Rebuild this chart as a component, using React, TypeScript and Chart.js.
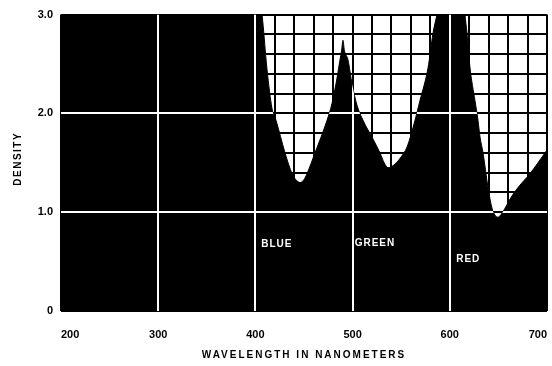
import React, { useEffect, useRef } from 'react';
import { Chart, registerables } from 'chart.js';

Chart.register(...registerables);

// Density curve (wavelength in nm -> density)
const wavelengths = [
  200, 300, 400, 403, 406.8, 411.9, 417.1, 421.2, 430.5, 437.7, 441.5, 446, 450, 453.1, 461.3, 473.7, 478.8,
  482.9, 487, 488.7, 490.1, 491.5, 495.3, 499.4, 504.6, 510.7, 521, 528.2, 532.5, 536.4, 540, 545, 550,
  556, 564.2, 569.3, 577.6, 582.7, 586.8, 590, 614, 615.6, 617.7, 620.8, 625.9, 629, 631.1, 634.2,
  639.3, 643.4, 646.5, 649.6, 653, 656.8, 663, 670.2, 682.5, 690, 697.9, 700,
];
const densities = [
  3.3, 3.3, 3.3, 3.2, 3.0, 2.45, 2.05, 1.93, 1.6, 1.39, 1.33, 1.3, 1.33, 1.39, 1.6, 1.93, 2.1,
  2.3, 2.54, 2.64, 2.74, 2.64, 2.54, 2.3, 2.08, 1.93, 1.74, 1.6, 1.5, 1.45, 1.46, 1.5, 1.56,
  1.66, 1.93, 2.13, 2.46, 2.81, 3.0, 3.15, 3.15, 3.0, 2.81, 2.46, 2.13, 1.93, 1.76, 1.6,
  1.25, 1.04, 0.97, 0.95, 0.98, 1.04, 1.15, 1.25, 1.39, 1.49, 1.6, 1.63,
];

const xMajor = [300, 400, 500, 600];
const yMajor = [1, 2];

const bandNames = ['BLUE', 'GREEN', 'RED'];
const bandX = [422, 523, 619];
const bandY = [0.68, 0.69, 0.52];

const xTitle = 'WAVELENGTH IN NANOMETERS';
const yTitle = 'DENSITY';

const FONT = '"Liberation Sans", Arial, Helvetica, sans-serif';

const overlay = {
  id: 'overlay',
  afterDatasetsDraw(chart: any) {
    const { ctx, chartArea: a, scales } = chart;
    const xs = scales.x;
    const ys = scales.y;
    const meta = chart.getDatasetMeta(0);
    const line = meta.dataset;
    const pts = meta.data;
    const base = ys.getPixelForValue(0);

    ctx.save();
    ctx.beginPath();
    ctx.rect(a.left, a.top, a.right - a.left, a.bottom - a.top);
    ctx.clip();
    ctx.beginPath();
    line.path(ctx);
    ctx.lineTo(pts[pts.length - 1].x, base);
    ctx.lineTo(pts[0].x, base);
    ctx.closePath();
    ctx.clip();
    ctx.strokeStyle = '#ffffff';
    ctx.lineWidth = 2;
    ctx.beginPath();
    xMajor.forEach((v) => {
      const px = Math.round(xs.getPixelForValue(v));
      ctx.moveTo(px, a.top);
      ctx.lineTo(px, a.bottom);
    });
    yMajor.forEach((v) => {
      const py = Math.round(ys.getPixelForValue(v));
      ctx.moveTo(a.left, py);
      ctx.lineTo(a.right, py);
    });
    ctx.stroke();
    ctx.restore();

    ctx.save();
    ctx.fillStyle = '#ffffff';
    ctx.font = 'bold 10px ' + FONT;
    (ctx as any).letterSpacing = '1px';
    ctx.textAlign = 'center';
    ctx.textBaseline = 'middle';
    bandNames.forEach((n, i) => {
      ctx.fillText(n, xs.getPixelForValue(bandX[i]), ys.getPixelForValue(bandY[i]));
    });
    ctx.restore();
  },
  afterDraw(chart: any) {
    const { ctx, chartArea: a } = chart;
    ctx.save();
    ctx.fillStyle = '#000';
    ctx.font = 'bold 10px ' + FONT;
    (ctx as any).letterSpacing = '2px';
    ctx.textAlign = 'center';
    ctx.textBaseline = 'middle';
    ctx.fillText(xTitle, (a.left + a.right) / 2, a.bottom + 44);
    (ctx as any).letterSpacing = '1.5px';
    ctx.translate(a.left - 43, (a.top + a.bottom) / 2 - 4);
    ctx.rotate(-Math.PI / 2);
    ctx.fillText(yTitle, 0, 0);
    ctx.restore();
  },
};

export default function App() {
  const ref = useRef<HTMLCanvasElement | null>(null);

  useEffect(() => {
    if (!ref.current) return;
    const chart = new Chart(ref.current, {
      type: 'line',
      data: {
        datasets: [
          {
            data: wavelengths.map((w, i) => ({ x: w, y: densities[i] })),
            borderColor: '#000',
            backgroundColor: '#000',
            borderWidth: 1,
            pointRadius: 0,
            fill: 'origin',
            cubicInterpolationMode: 'monotone',
          },
        ],
      },
      options: {
        responsive: false,
        animation: false,
        devicePixelRatio: 1,
        layout: { padding: { left: 8, top: 14, right: 5, bottom: 0 } },
        plugins: { legend: { display: false }, tooltip: { enabled: false } },
        scales: {
          x: {
            type: 'linear',
            min: 200,
            max: 700,
            afterFit: (s: any) => {
              s.height = 55;
              s.paddingLeft = 0;
              s.paddingRight = 0;
            },
            border: { display: false },
            grid: { color: '#000', lineWidth: 2, drawTicks: false },
            ticks: {
              stepSize: 20,
              autoSkip: false,
              maxRotation: 0,
              align: 'inner',
              padding: 17,
              color: '#000',
              font: { family: FONT, size: 11, weight: 'bold' },
              callback: (v: any) => (Math.round(v) % 100 === 0 ? String(Math.round(v)) : ''),
            },
          },
          y: {
            min: 0,
            max: 3,
            afterFit: (s: any) => {
              s.width = 53;
            },
            border: { display: false },
            grid: { color: '#000', lineWidth: 2, drawTicks: false },
            ticks: {
              stepSize: 0.2,
              autoSkip: false,
              padding: 8,
              color: '#000',
              font: { family: FONT, size: 11, weight: 'bold' },
              callback: (v: any) => {
                const n = Number(v);
                if (Math.abs(n - Math.round(n)) > 1e-6) return '';
                return Math.round(n) === 0 ? '0' : Math.round(n).toFixed(1);
              },
            },
          },
        },
      },
      plugins: [overlay],
    });
    return () => chart.destroy();
  }, []);

  return (
    <div style={{ position: 'fixed', left: 0, top: 0, width: 552, height: 366, background: '#fff' }}>
      <canvas ref={ref} width={552} height={366} style={{ display: 'block' }} />
    </div>
  );
}
